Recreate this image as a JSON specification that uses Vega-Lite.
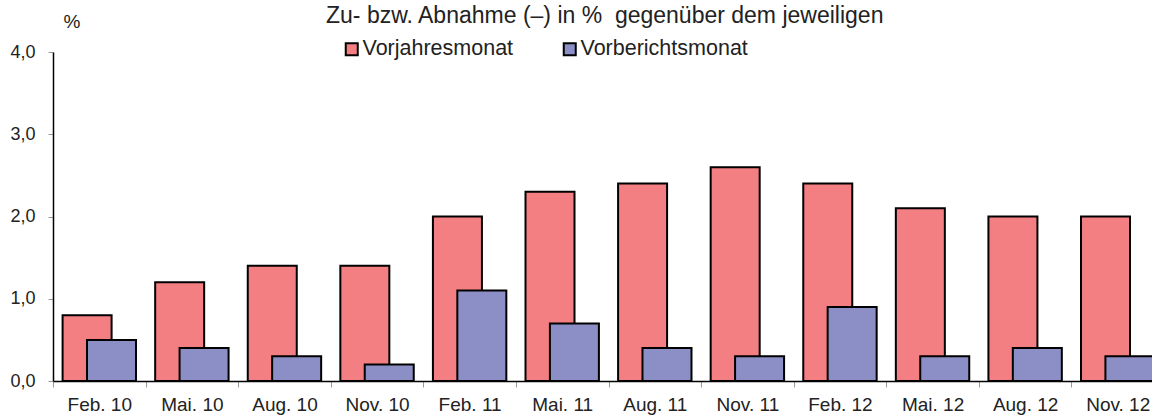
{
  "$schema": "https://vega.github.io/schema/vega-lite/v6.json",
  "width": 1099,
  "height": 329,
  "autosize": {"type": "none"},
  "padding": {"left": 53, "top": 52, "right": 0, "bottom": 36},
  "config": {"view": {"stroke": null}, "font": "Liberation Sans"},
  "title": {
    "text": "Zu- bzw. Abnahme (–) in %\u00a0 gegenüber dem jeweiligen",
    "anchor": "start",
    "frame": "group",
    "dx": 273,
    "fontSize": 23,
    "fontWeight": "normal",
    "color": "#222",
    "offset": -16
  },
  "data": {
    "values": [
      {"monat": "Feb. 10", "series": "Vorjahresmonat", "wert": 0.8},
      {"monat": "Mai. 10", "series": "Vorjahresmonat", "wert": 1.2},
      {"monat": "Aug. 10", "series": "Vorjahresmonat", "wert": 1.4},
      {"monat": "Nov. 10", "series": "Vorjahresmonat", "wert": 1.4},
      {"monat": "Feb. 11", "series": "Vorjahresmonat", "wert": 2.0},
      {"monat": "Mai. 11", "series": "Vorjahresmonat", "wert": 2.3},
      {"monat": "Aug. 11", "series": "Vorjahresmonat", "wert": 2.4},
      {"monat": "Nov. 11", "series": "Vorjahresmonat", "wert": 2.6},
      {"monat": "Feb. 12", "series": "Vorjahresmonat", "wert": 2.4},
      {"monat": "Mai. 12", "series": "Vorjahresmonat", "wert": 2.1},
      {"monat": "Aug. 12", "series": "Vorjahresmonat", "wert": 2.0},
      {"monat": "Nov. 12", "series": "Vorjahresmonat", "wert": 2.0},
      {"monat": "Feb. 10", "series": "Vorberichtsmonat", "wert": 0.5},
      {"monat": "Mai. 10", "series": "Vorberichtsmonat", "wert": 0.4},
      {"monat": "Aug. 10", "series": "Vorberichtsmonat", "wert": 0.3},
      {"monat": "Nov. 10", "series": "Vorberichtsmonat", "wert": 0.2},
      {"monat": "Feb. 11", "series": "Vorberichtsmonat", "wert": 1.1},
      {"monat": "Mai. 11", "series": "Vorberichtsmonat", "wert": 0.7},
      {"monat": "Aug. 11", "series": "Vorberichtsmonat", "wert": 0.4},
      {"monat": "Nov. 11", "series": "Vorberichtsmonat", "wert": 0.3},
      {"monat": "Feb. 12", "series": "Vorberichtsmonat", "wert": 0.9},
      {"monat": "Mai. 12", "series": "Vorberichtsmonat", "wert": 0.3},
      {"monat": "Aug. 12", "series": "Vorberichtsmonat", "wert": 0.4},
      {"monat": "Nov. 12", "series": "Vorberichtsmonat", "wert": 0.3}
    ]
  },
  "encoding": {
    "x": {
      "field": "monat",
      "type": "nominal",
      "sort": ["Feb. 10","Mai. 10","Aug. 10","Nov. 10","Feb. 11","Mai. 11","Aug. 11","Nov. 11","Feb. 12","Mai. 12","Aug. 12","Nov. 12"],
      "scale": {"paddingInner": 0, "paddingOuter": 0, "range": [0, 1111]},
      "axis": {
        "title": null,
        "tickBand": "extent",
        "tickColor": "#999",
        "tickSize": 6,
        "domainColor": "black",
        "domainWidth": 1.5,
        "labelFontSize": 19,
        "labelPadding": 8,
        "labelAngle": 0,
        "labelColor": "#222",
        "grid": false
      }
    },
    "y": {
      "field": "wert",
      "type": "quantitative",
      "scale": {"domain": [0, 4], "nice": false},
      "axis": {
        "values": [0, 1, 2, 3, 4],
        "labelExpr": "replace(format(datum.value, '.1f'), '.', ',')",
        "title": "%",
        "titleAngle": 0,
        "titleX": 10,
        "titleY": -25,
        "titleAlign": "left",
        "titleBaseline": "alphabetic",
        "titleFontSize": 19,
        "titleFontWeight": "normal",
        "titleColor": "#222",
        "grid": false,
        "domainColor": "black",
        "domainWidth": 1.5,
        "tickColor": "#999",
        "tickSize": 5,
        "labelFontSize": 18,
        "labelPadding": 13,
        "labelColor": "#222"
      }
    },
    "color": {
      "field": "series",
      "type": "nominal",
      "scale": {"domain": ["Vorjahresmonat", "Vorberichtsmonat"], "range": ["#F47F83", "#8C8FC5"]},
      "legend": {
        "orient": "none",
        "legendX": 288,
        "legendY": -14,
        "direction": "horizontal",
        "title": null,
        "symbolType": "square",
        "symbolSize": 144,
        "symbolStrokeColor": "black",
        "symbolStrokeWidth": 2,
        "symbolOpacity": 1,
        "labelFontSize": 21.5,
        "labelOffset": 0,
        "labelLimit": 400,
        "columnPadding": 45,
        "labelColor": "#222"
      }
    }
  },
  "layer": [
    {
      "transform": [{"filter": "datum.series === 'Vorjahresmonat'"}],
      "mark": {"type": "bar", "width": 49, "xOffset": -12.2, "stroke": "black", "strokeWidth": 2, "opacity": 1}
    },
    {
      "transform": [{"filter": "datum.series === 'Vorberichtsmonat'"}],
      "mark": {"type": "bar", "width": 49, "xOffset": 12.2, "stroke": "black", "strokeWidth": 2, "opacity": 1}
    }
  ]
}
